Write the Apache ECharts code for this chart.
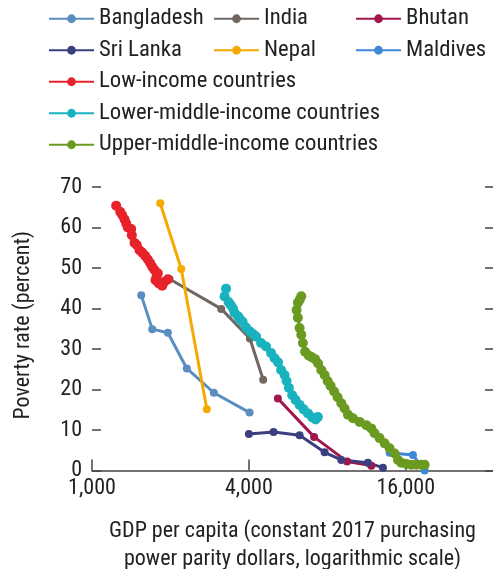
<!DOCTYPE html>
<html><head><meta charset="utf-8">
<script src="https://cdn.jsdelivr.net/npm/echarts@6/dist/echarts.min.js"></script>
<style>html,body{margin:0;padding:0;background:#fff}#c{width:493px;height:569px}</style>
</head><body><div id="c"></div>
<script>
const FONT = '"Liberation Sans Narrow", "Arial Narrow", "Roboto Condensed", "Liberation Sans", sans-serif';

const xTickValues = [1000, 4000, 16000];
const xAxisTitle = 'GDP per capita (constant 2017 purchasing\npower parity dollars, logarithmic scale)';
const yAxisTitle = 'Poverty rate (percent)';

const bangladesh = [[1545,43.3],[1703,34.9],[1955,34.0],[2312,25.2],[2935,19.2],[4025,14.3]];
const india = [[1984,47.3],[3134,39.9],[4036,32.6],[4540,22.4]];
const bhutan = [[5169,17.8],[7118,8.3],[9533,2.2],[11803,1.2]];
const sriLanka = [[4000,9.0],[4976,9.5],[6263,8.7],[7813,4.5],[9056,2.6],[11456,1.9],[13078,0.7]];
const nepal = [[1828,66.0],[2201,49.75],[2759,15.1]];
const maldives = [[13878,4.4],[17053,3.8],[18910,0.0]];
const lowIncome = [[1238,65.4],[1283,63.9],[1306,63.1],[1333,62.0],[1353,61.0],[1372,60.0],[1414,59.6],[1422,58.1],[1456,56.2],[1486,55.7],[1522,54.4],[1559,53.8],[1601,53.0],[1638,52.1],[1673,51.2],[1703,50.3],[1738,49.5],[1789,48.7],[1769,47.8],[1753,47.0],[1805,46.2],[1860,45.6],[1898,46.6],[1955,47.2]];
const lowerMiddle = [[3270,44.9],[3227,43.0],[3343,41.6],[3403,40.9],[3478,40.0],[3525,38.9],[3636,38.1],[3684,37.5],[3784,36.7],[3902,35.3],[4042,34.3],[4152,33.7],[4263,33.1],[4456,31.5],[4657,30.6],[4867,29.0],[5021,27.7],[5178,26.7],[5318,24.8],[5484,23.6],[5583,22.1],[5697,20.4],[5872,18.6],[6046,17.4],[6263,16.2],[6489,15.1],[6742,14.1],[7008,13.1],[7215,12.6],[7362,13.2]];
const upperMiddle = [[6357,43.0],[6263,42.1],[6169,41.4],[6098,39.6],[6169,37.7],[6263,35.2],[6357,33.5],[6448,31.5],[6575,29.3],[6781,28.4],[6963,28.0],[7181,27.5],[7375,26.4],[7586,24.8],[7813,23.6],[8022,22.1],[8237,20.9],[8495,19.5],[8762,18.1],[9056,16.6],[9323,15.3],[9600,13.8],[10035,12.9],[10645,12.0],[11293,11.2],[11803,10.4],[12152,9.2],[12701,8.0],[13277,6.7],[13878,5.5],[14505,4.2],[14939,2.6],[15391,1.9],[16090,1.6],[16814,1.4],[17570,1.4],[18365,1.4],[18910,1.4]];

const seriesDefs = [
  {name:'Bangladesh', data:bangladesh, color:'#5b8ec0', size:8},
  {name:'India', data:india, color:'#716760', size:8},
  {name:'Nepal', data:nepal, color:'#f4aa00', size:8},
  {name:'Maldives', data:maldives, color:'#3f88d8', size:8},
  {name:'Upper-middle-income countries', data:upperMiddle, color:'#6a9a20', size:10},
  {name:'Lower-middle-income countries', data:lowerMiddle, color:'#19b2bf', size:10},
  {name:'Bhutan', data:bhutan, color:'#a0164f', size:8},
  {name:'Sri Lanka', data:sriLanka, color:'#3b3f80', size:8},
  {name:'Low-income countries', data:lowIncome, color:'#e8222a', size:10}
];

const legendCols = [
  {left:48, items:['Bangladesh','Sri Lanka','Low-income countries','Lower-middle-income countries','Upper-middle-income countries']},
  {left:213, items:['India','Nepal']},
  {left:355, items:['Bhutan','Maldives']}
];

const chart = echarts.init(document.getElementById('c'), null, {renderer:'canvas'});
const textColor = '#222';
chart.setOption({
  animation:false,
  textStyle:{fontFamily:FONT},
  legend: legendCols.map(c => ({
    left:c.left, top:7, padding:0, orient:'vertical', itemGap:8, itemWidth:45, itemHeight:11,
    data:c.items, selectedMode:false,
    textStyle:{fontFamily:FONT, fontSize:22.7, color:textColor, lineHeight:23.5}
  })),
  grid:{left:92, right:0, top:187, bottom:98.5, containLabel:false, outerBoundsMode:'none'},
  xAxis:{
    type:'log', logBase:2, min:1000, max:34600,
    name:xAxisTitle, nameLocation:'middle', nameGap:47,
    nameTextStyle:{fontFamily:FONT, fontSize:22, color:textColor, lineHeight:28},
    axisLine:{show:true, lineStyle:{color:'#444', width:1.5}},
    axisTick:{show:true, inside:true, length:11, customValues:xTickValues, lineStyle:{color:'#444', width:1.5}},
    axisLabel:{customValues:xTickValues, fontFamily:FONT, fontSize:22, color:textColor, margin:7,
      formatter: v => Number(v).toLocaleString('en-US')},
    splitLine:{show:false}, minorTick:{show:false}
  },
  yAxis:[{
    type:'value', min:0, max:70, interval:10, position:'left',
    name:yAxisTitle, nameLocation:'middle', nameGap:58,
    nameTextStyle:{fontFamily:FONT, fontSize:22, color:textColor, padding:[0,0,0,7]},
    axisLine:{show:false}, axisTick:{show:true, inside:true, length:9, lineStyle:{color:'#444', width:1.5}},
    axisLabel:{fontFamily:FONT, fontSize:22, color:textColor, margin:10},
    splitLine:{show:false}
  },{
    type:'value', min:0, max:70, interval:10, position:'right',
    axisLine:{show:false}, axisTick:{show:true, inside:true, length:8, lineStyle:{color:'#444', width:1.5}},
    axisLabel:{show:false}, splitLine:{show:false}
  }],
  series: seriesDefs.map(s => ({
    name:s.name, type:'line', data:s.data, xAxisIndex:0, yAxisIndex:0,
    symbol:'circle', symbolSize:s.size, showSymbol:true, smooth:false,
    lineStyle:{color:s.color, width:3}, itemStyle:{color:s.color},
    emphasis:{disabled:true}
  }))
});
</script></body></html>
